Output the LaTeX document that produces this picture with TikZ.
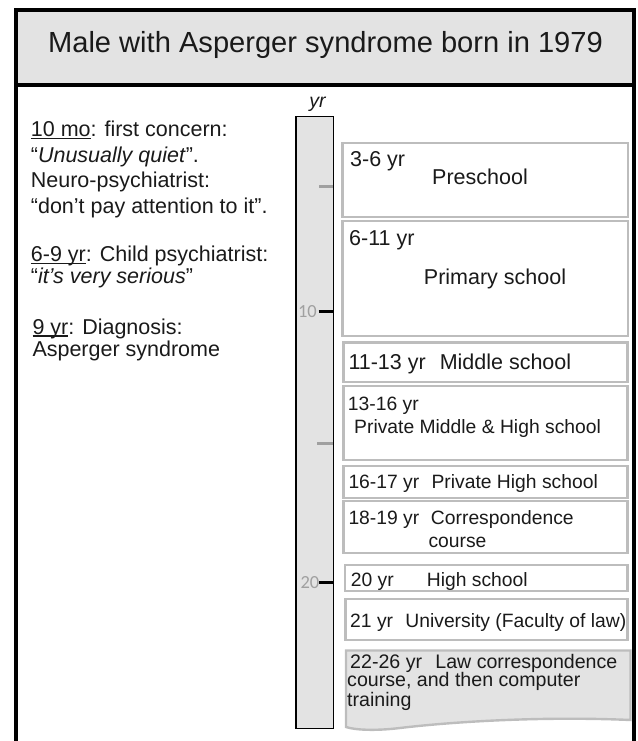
\documentclass[tikz,border=0pt]{standalone}
\usepackage{fontspec}
\setmainfont{Liberation Sans}
\newfontfamily\tickfont{Carlito}
\definecolor{panelgray}{HTML}{E3E3E3}
\definecolor{boxgray}{HTML}{BDBDBD}
\definecolor{tickgray}{HTML}{A0A0A0}
\definecolor{txtblack}{HTML}{1A1A1A}
\newsavebox\ulbox
\newcommand{\myul}[1]{\sbox\ulbox{#1}\rlap{\rule[-2.4pt]{\wd\ulbox}{1.3pt}}\usebox\ulbox}
\tikzset{
  lefttxt/.style={anchor=base west, inner sep=0pt, text=txtblack, font=\fontsize{21.5}{25}\selectfont},
  boxtxt/.style={anchor=base west, inner sep=0pt, text=txtblack, font=\fontsize{19.3}{22}\selectfont},
  bigtxt/.style={boxtxt, font=\fontsize{21.5}{25}\selectfont},
  bigtxtc/.style={bigtxt, anchor=base},
  lasttxt/.style={boxtxt, font=\fontsize{19.6}{22}\selectfont, text height=12pt, text depth=2pt},
  stagebox/.style={draw=boxgray, line width=2.4pt, fill=white},
  ticklab/.style={anchor=east, inner sep=0pt, text=tickgray, font=\tickfont\fontsize{18.5}{20}\selectfont},
  minortick/.style={draw=tickgray, line width=2.6pt},
  majortick/.style={draw=black, line width=2.6pt},
}
\begin{document}
\begin{tikzpicture}[x=1pt,y=-1pt]
\useasboundingbox (0,0) rectangle (637,741);
% frame and title
\fill[panelgray] (16,10) rectangle (634,85);
\draw[line width=4.6pt, line join=miter] (16,741) -- (16,10) -- (634,10) -- (634,741);
\draw[line width=4pt] (16,85) -- (634,85);
\node[anchor=base, inner sep=0pt, text=txtblack, font=\fontsize{29.1}{34}\selectfont] (title) at (325.5,52.3) {Male with Asperger syndrome born in 1979};
% left notes
\node[lefttxt] (l1) at (30.7,136.7) {\myul{10 mo}: first concern:};
\node[lefttxt] (l2) at (30.7,162) {“\textit{Unusually quiet}”.};
\node[lefttxt] (l3) at (30.7,187.7) {Neuro-psychiatrist:};
\node[lefttxt] (l4) at (30.7,213) {“don’t pay attention to it”.};
\node[lefttxt] (l5) at (30.7,261.7) {\myul{6-9 yr}: Child psychiatrist:};
\node[lefttxt] (l6) at (30.7,283.3) {“\textit{it’s very serious}”};
\node[lefttxt] (l7) at (32.3,334.3) {\myul{9 yr}: Diagnosis:};
\node[lefttxt] (l8) at (32.3,356.7) {Asperger syndrome};
% timeline bar
\node[anchor=base, inner sep=0pt, text=txtblack, font=\fontsize{19.5}{22}\selectfont\itshape] (yr) at (317.5,107.3) {yr};
\draw[fill=panelgray, draw=black, line width=1.5pt] (296,116.7) rectangle (333.3,728.3);
\draw[minortick] (319,186.7) -- (333,186.7);
\draw[majortick] (318.5,311.7) -- (333,311.7);
\draw[minortick] (317,443.3) -- (333,443.3);
\draw[majortick] (319.3,582.7) -- (333,582.7);
\node[ticklab] (t10) at (317,311.7) {10};
\node[ticklab] (t20) at (319.5,582.7) {20};
% stage boxes
\draw[stagebox] (342.5,142.7) rectangle (628,216.7);
\node[bigtxt] (b1a) at (350,166) {3-6 yr};
\node[bigtxtc] (b1b) at (480,184) {Preschool};
\draw[stagebox] (342.5,221) rectangle (628,336);
\node[bigtxt] (b2a) at (349,245) {6-11 yr};
\node[bigtxtc] (b2b) at (495,284.3) {Primary school};
\draw[stagebox] (343.3,342.3) rectangle (627.3,381.7);
\node[bigtxt] (b3) at (348.3,369) {11-13 yr\hspace{14pt}Middle school};
\draw[stagebox] (343.3,386) rectangle (627.3,460);
\node[boxtxt] (b4a) at (347.7,410) {13-16 yr};
\node[boxtxt] (b4b) at (354,433.3) {Private Middle \& High school};
\draw[stagebox] (343.3,465.7) rectangle (627.3,497.7);
\node[boxtxt] (b5) at (348.3,488.3) {16-17 yr\hspace{12.3pt}Private High school};
\draw[stagebox] (343.3,501) rectangle (627.3,552.7);
\node[boxtxt] (b6a) at (348.3,524) {18-19 yr\hspace{11.7pt}Correspondence};
\node[boxtxt] (b6b) at (428.3,547.3) {course};
\draw[stagebox] (345,565) rectangle (627.5,590.7);
\node[boxtxt] (b7a) at (350.7,586) {20 yr};
\node[boxtxt] (b7b) at (426.7,586) {High school};
\draw[stagebox] (345.3,599) rectangle (627.5,640);
\node[boxtxt] (b8) at (350,627.3) {21 yr\hspace{12.3pt}University (Faculty of law)};
\draw[draw=boxgray, line width=2.4pt, fill=panelgray] (346,650.5) -- (630.5,650.5) -- (630.5,720)
  .. controls (540,716) and (450,722) .. (400,728) .. controls (375,731) and (355,730) .. (346,727) -- cycle;
\node[lasttxt] (b9a) at (350,668.7) {22-26 yr\hspace{13.3pt}Law correspondence};
\node[lasttxt] (b9b) at (347,686.8) {course, and then computer};
\node[lasttxt] (b9c) at (347,706) {training};
\end{tikzpicture}
\end{document}
